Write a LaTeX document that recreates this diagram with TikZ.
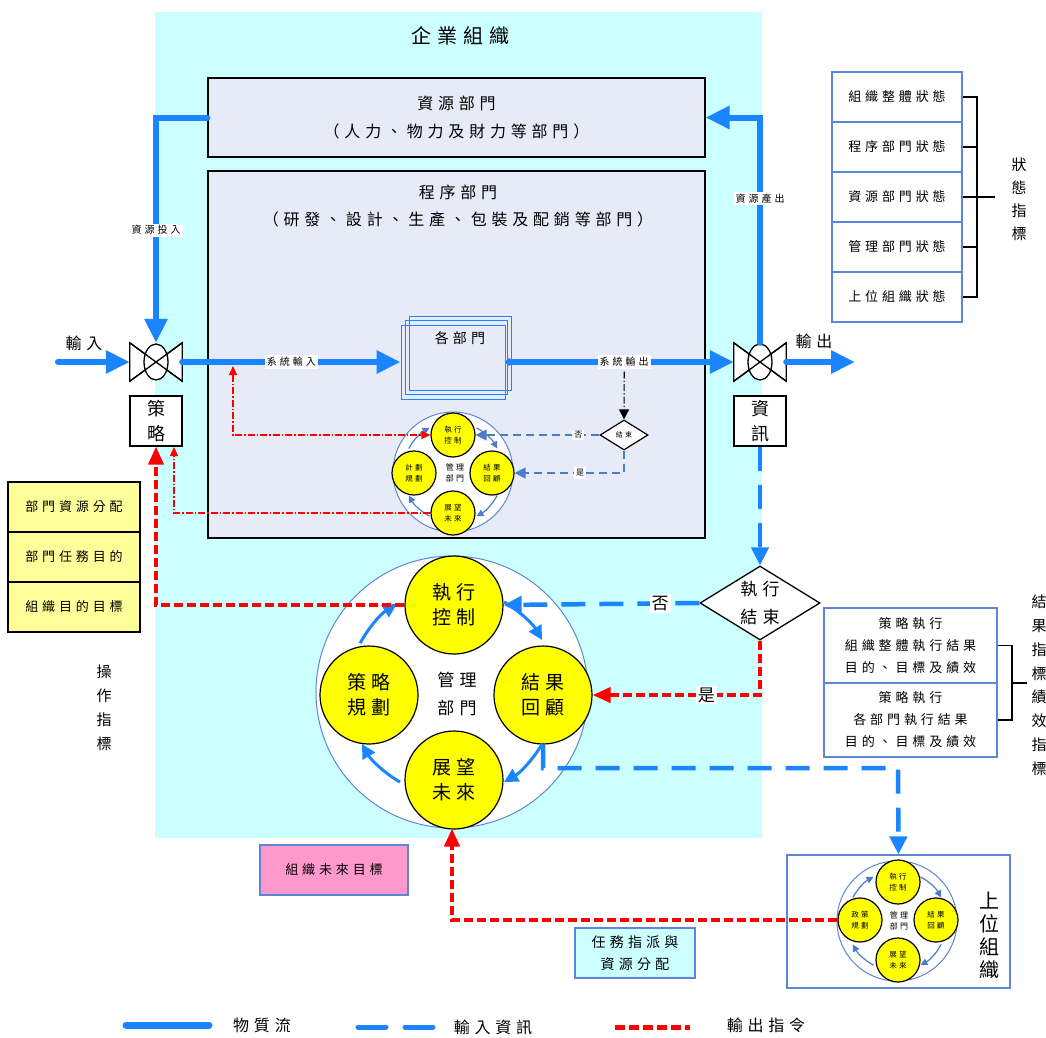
\documentclass[tikz,border=0pt]{standalone}
\usepackage{fontspec}
\setmainfont[LetterSpace=30]{Noto Sans CJK TC}
\usetikzlibrary{arrows.meta,shapes.geometric,calc}
\definecolor{bgc}{HTML}{CCFFFF}
\definecolor{lavc}{HTML}{E6EBF7}
\definecolor{flow}{HTML}{1A85FF}
\definecolor{ibl}{HTML}{4A7CC8}
\definecolor{bbord}{HTML}{5B87D6}
\definecolor{ylw}{HTML}{FFFF00}
\definecolor{lylw}{HTML}{FFFF99}
\definecolor{pnk}{HTML}{FF99CC}
\definecolor{rd}{HTML}{FF0000}
\newcommand\fz[2]{\fontsize{#1}{#2}\selectfont}
\tikzset{
  lav/.style={draw=black, line width=1.2pt, fill=lavc, inner sep=0pt},
  wbox/.style={draw=black, line width=1.2pt, fill=white, inner sep=0pt, align=center},
  valve/.style={draw=black, fill=white, line width=1.3pt},
  mflow/.style={draw=flow, line width=6pt, line cap=round, -{Triangle[length=24pt,width=22pt]}},
  info/.style={draw=flow, line width=4.5pt, dash pattern=on 24pt off 14pt, -{Triangle[length=18pt,width=17pt]}},
  cmd/.style={draw=rd, line width=4pt, dash pattern=on 9pt off 4pt, -{Triangle[length=18pt,width=15pt]}},
  sdash/.style={draw=ibl, line width=1.3pt, dash pattern=on 8pt off 5pt, -{Triangle[length=11pt,width=11pt]}},
  rdd/.style={draw=rd, line width=1.1pt, dash pattern=on 7pt off 2pt on 1.5pt off 2pt},
  bdd/.style={draw=black, line width=1.1pt, dash pattern=on 7pt off 2pt on 1.5pt off 2pt, -{Triangle[length=10pt,width=10pt]}},
  lbl/.style={fill=white, inner sep=2pt},
  ycirc/.style={circle, draw=black, line width=1.2pt, fill=ylw, minimum size=#1, inner sep=0pt, align=center},
  sarr/.style={draw=ibl, line width=1.2pt, -{Triangle[length=7pt,width=7pt]}},
  barr/.style={draw=flow, line width=3pt, -{Triangle[length=14pt,width=14pt]}},
  gbox/.style={draw=flow, line width=1pt},
  stbox/.style={draw=bbord, line width=1.2pt, fill=white, minimum width=130, minimum height=50, inner sep=0pt, align=center, font=\fz{13}{22}},
  ybox/.style={draw=black, line width=1.2pt, fill=lylw, minimum width=132, minimum height=50, inner sep=0pt, font=\fz{13}{16}},
  vtext/.style={align=center, inner sep=0pt},
}
\begin{document}
\begin{tikzpicture}[x=1pt,y=-1pt]
\useasboundingbox (0,0) rectangle (1046,1037);
\fill[white] (0,0) rectangle (1046,1037);
\fill[bgc] (155,12) rectangle (762,838);

% titles and departments
\node[font=\fz{20}{24}] (T) at (460,36) {企業組織};
\node[lav, minimum width=497, minimum height=79, align=center, font=\fz{16}{28}] (R) at (456.5,117.5) {資源部門\\（人力、物力及財力等部門）};
\node[lav, minimum width=497, minimum height=367] (P) at (456.5,354.5) {};
\node[align=center, font=\fz{16}{28}] (Pt) at (458,206) {程序部門\\（研發、設計、生產、包裝及配銷等部門）};

% valves
\node[minimum width=52, minimum height=38, inner sep=0pt] (vL) at (156,362) {};
\node[minimum width=52, minimum height=38, inner sep=0pt] (vR) at (760,362) {};
\foreach \v in {vL,vR}{
  \filldraw[valve] (\v.north west) -- (\v.south east) -- (\v.north east) -- (\v.south west) -- cycle;
  \filldraw[valve] (\v.center) ellipse[x radius=12, y radius=18];
  \draw[line width=1.3pt] (\v.north west) -- (\v.south east) (\v.south west) -- (\v.north east);
}
\node[wbox, minimum width=52, minimum height=50, font=\fz{18}{25}] (S) at (156,421) {策\\略};
\node[wbox, minimum width=52, minimum height=50, font=\fz{18}{25}] (I) at (760,421) {資\\訊};
\node[font=\fz{16}{20}] (inL) at (84,343) {輸入};
\node[font=\fz{16}{20}] (outL) at (814,341) {輸出};
\coordinate (inS) at (58,362);
\coordinate (outE) at (855,362);

% each department
\draw[gbox] (409,316) rectangle (511,390);
\draw[gbox] (405,320) rectangle (507,394);
\node[gbox, minimum width=104, minimum height=74, inner sep=0pt] (G) at (453,362) {};
\node[font=\fz{14}{16}] (Gt) at (460,338) {各部門};

% small diamond
\node[diamond, draw=black, line width=1.2pt, fill=white, minimum width=48, minimum height=30, inner sep=0pt, font=\fz{7}{8}] (D1) at (624,435) {結束};

% small management circle
\node[circle, draw=bbord, line width=1pt, fill=white, minimum size=120, inner sep=0pt] (SC) at (453,472) {};
\node[ycirc=44, font=\fz{7.5}{11}] (sE) at (453,435) {執行\\控制};
\node[ycirc=44, font=\fz{7.5}{11}] (sP) at (414,473) {計劃\\規劃};
\node[ycirc=44, font=\fz{7.5}{11}] (sR) at (492,473) {結果\\回顧};
\node[ycirc=44, font=\fz{7.5}{11}] (sF) at (453,513) {展望\\未來};
\node[align=center, font=\fz{8}{11}] (sM) at (455,473) {管理\\部門};
\draw[sarr] ($(SC.center)+(-62:50)$) arc[start angle=-62, end angle=-28, radius=50];
\draw[sarr] ($(SC.center)+(28:50)$) arc[start angle=28, end angle=62, radius=50];
\draw[sarr] ($(SC.center)+(118:50)$) arc[start angle=118, end angle=152, radius=50];
\draw[sarr] ($(SC.center)+(208:50)$) arc[start angle=208, end angle=242, radius=50];

% main flows
\draw[mflow] (inS) -- (vL.west);
\draw[mflow] (R.west) -| (vL.north) node[lbl, pos=0.75, font=\fz{10}{12}] {資源投入};
\draw[mflow] (vR.north) |- (R.east) node[lbl, pos=0.32, font=\fz{10}{12}] {資源產出};
\draw[mflow] (vL.east) -- (G.west) node[lbl, midway, font=\fz{10}{12}] {系統輸入};
\draw[mflow, {Circle[length=7pt]}-{Triangle[length=24pt,width=22pt]}] (G.east) -- (vR.west) node[lbl, pos=0.52, font=\fz{10}{12}] (so) {系統輸出};
\draw[mflow] (vR.east) -- (outE);
\draw[bdd] (so.south) -- (D1.north);
\draw[sdash] (D1.west) -- (sE.east) node[lbl, pos=0.17, font=\fz{8}{10}] {否};
\draw[sdash] (D1.south) |- (sR.east) node[lbl, pos=0.7, font=\fz{8}{10}] {是};
\coordinate (sysin) at (233,366);
\coordinate (sb2) at (174,447);
\draw[rdd, {Triangle[length=9pt,width=8pt]}-{Triangle[length=9pt,width=8pt]}] (sysin) |- (sE.west);
\draw[rdd, -{Triangle[length=9pt,width=8pt]}] (sF.west) -| (sb2);

% big management circle
\node[circle, draw=bbord, line width=1pt, fill=white, minimum size=272, inner sep=0pt] (BC) at (452,692) {};
\node[ycirc=98, font=\fz{19}{25}] (bE) at (454,605) {執行\\控制};
\node[ycirc=98, font=\fz{19}{25}] (bP) at (369,695) {策略\\規劃};
\node[ycirc=98, font=\fz{19}{25}] (bR) at (543,695) {結果\\回顧};
\node[ycirc=98, font=\fz{19}{25}] (bF) at (454,780) {展望\\未來};
\node[align=center, font=\fz{17}{28}] (bM) at (457,694) {管理\\部門};
\draw[barr] ($(BC.center)+(208:104)$) arc[start angle=208, end angle=238, radius=104];
\draw[barr] ($(BC.center)+(-60:104)$) arc[start angle=-60, end angle=-30, radius=104];
\draw[barr] ($(BC.center)+(30:104)$) arc[start angle=30, end angle=60, radius=104];
\draw[barr] ($(BC.center)+(120:104)$) arc[start angle=120, end angle=150, radius=104];

\node[diamond, draw=black, line width=1.3pt, fill=white, minimum width=120, minimum height=74, aspect=1.6, inner sep=0pt, align=center, font=\fz{17}{28}] (BD) at (760,603) {執行\\結束};

% left yellow boxes
\node[ybox] (Y1) at (74,507) {部門資源分配};
\node[ybox] (Y2) at (74,557) {部門任務目的};
\node[ybox] (Y3) at (74,607) {組織目的目標};
\node[vtext, font=\fz{15}{24}] (op) at (104,708) {操\\作\\指\\標};

% status boxes
\node[stbox] (St1) at (897,97) {組織整體狀態};
\node[stbox] (St2) at (897,147) {程序部門狀態};
\node[stbox] (St3) at (897,197) {資源部門狀態};
\node[stbox] (St4) at (897,247) {管理部門狀態};
\node[stbox] (St5) at (897,297) {上位組織狀態};
\coordinate (stx) at (977,197);
\coordinate (stx2) at (995,197);
\draw[line width=1.2pt] (St1.east) -- (St1.east -| stx) -- (St5.east -| stx) -- (St5.east);
\foreach \s in {St2,St3,St4}{\draw[line width=1.2pt] (\s.east) -- (\s.east -| stx);}
\draw[line width=1.2pt] (stx) -- (stx2);
\node[vtext, font=\fz{15}{23}] (stl) at (1019,199) {狀\\態\\指\\標};

% result boxes
\node[stbox, minimum width=173, minimum height=75] (Rs1) at (910.5,645.5) {策略執行\\組織整體執行結果\\目的、目標及績效};
\node[stbox, minimum width=173, minimum height=74] (Rs2) at (910.5,720) {策略執行\\各部門執行結果\\目的、目標及績效};
\coordinate (rx) at (1012,683);
\coordinate (rx2) at (1027,683);
\draw[line width=1.2pt] (Rs1.east) -- (Rs1.east -| rx) -- (Rs2.east -| rx) -- (Rs2.east);
\draw[line width=1.2pt] (rx) -- (rx2);
\node[vtext, font=\fz{15}{24}] (rl1) at (1039,638) {結\\果\\指\\標};
\node[vtext, font=\fz{15}{24}] (rl2) at (1039,733) {績\\效\\指\\標};

% pink and task boxes
\node[draw=bbord, line width=1.2pt, fill=pnk, minimum width=148, minimum height=50, inner sep=0pt, font=\fz{13}{16}] (PK) at (334,870) {組織未來目標};
\node[draw=bbord, line width=1.2pt, fill=bgc, minimum width=120, minimum height=50, inner sep=0pt, align=center, font=\fz{14}{22}] (TK) at (635,953) {任務指派與\\資源分配};

% upper organisation
\node[draw=bbord, line width=1.2pt, fill=white, minimum width=223, minimum height=133, inner sep=0pt] (UO) at (898.5,921.5) {};
\node[circle, draw=bbord, line width=1pt, fill=white, minimum size=120, inner sep=0pt] (UC) at (897,921) {};
\node[ycirc=44, font=\fz{7.5}{11}] (uE) at (898,882) {執行\\控制};
\node[ycirc=44, font=\fz{7.5}{11}] (uP) at (860,920) {政策\\規劃};
\node[ycirc=44, font=\fz{7.5}{11}] (uR) at (936,920) {結果\\回顧};
\node[ycirc=44, font=\fz{7.5}{11}] (uF) at (898,960) {展望\\未來};
\node[align=center, font=\fz{8}{11}] (uM) at (899,921) {管理\\部門};
\draw[sarr] ($(UC.center)+(-62:50)$) arc[start angle=-62, end angle=-28, radius=50];
\draw[sarr] ($(UC.center)+(28:50)$) arc[start angle=28, end angle=62, radius=50];
\draw[sarr] ($(UC.center)+(118:50)$) arc[start angle=118, end angle=152, radius=50];
\draw[sarr] ($(UC.center)+(208:50)$) arc[start angle=208, end angle=242, radius=50];
\node[vtext, font=\fz{20}{23}] (uol) at (989,935) {上\\位\\組\\織};

% management flows
\draw[info] (I.south) -- (BD.north);
\draw[info] (BD.west) -- (bE.east) node[lbl, pos=0.2, font=\fz{17}{20}] {否};
\draw[cmd] (BD.south) |- (bR.east) node[lbl, pos=0.66, font=\fz{17}{20}] {是};
\draw[cmd] (bE.west) -| (S.south);
\coordinate (bend) at (898,768);
\draw[info] (bR.south) |- (bend) -- (UO.north);
\draw[cmd] (uP.west) -| (BC.south);

% legend
\coordinate (l1a) at (126,1025);
\coordinate (l1b) at (209,1025);
\coordinate (l2a) at (358,1027);
\coordinate (l2b) at (438,1027);
\coordinate (l3a) at (615,1027);
\coordinate (l3b) at (690,1027);
\draw[flow, line width=7pt, line cap=round] (l1a) -- (l1b);
\draw[flow, line width=5pt, line cap=round, dash pattern=on 28pt off 19pt] (l2a) -- (l2b);
\draw[rd, line width=5pt, dash pattern=on 10pt off 4pt] (l3a) -- (l3b);
\node[font=\fz{16}{18}] (lg1) at (262,1025) {物質流};
\node[font=\fz{16}{18}] (lg2) at (493,1027) {輸入資訊};
\node[font=\fz{16}{18}] (lg3) at (766,1025) {輸出指令};
\end{tikzpicture}
\end{document}
